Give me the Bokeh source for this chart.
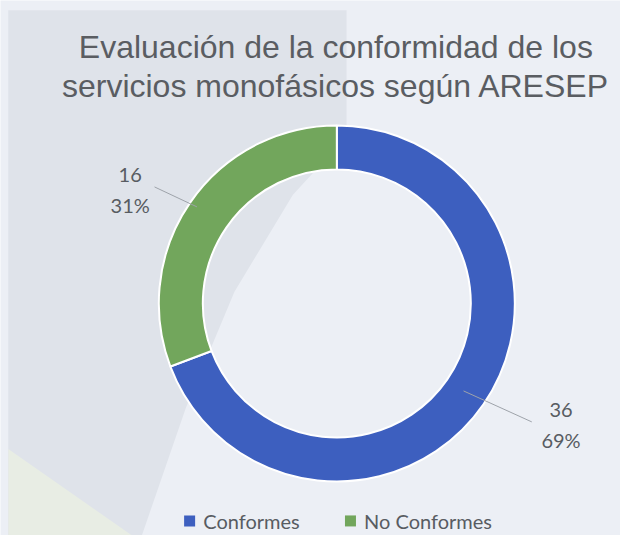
import math
from bokeh.plotting import figure
from bokeh.models import Range1d, ColumnDataSource
from bokeh.core.properties import value
from bokeh.embed import file_html
from bokeh.resources import INLINE

# ---- data ----
categories = ["Conformes", "No Conformes"]
counts = [36, 16]
percents = ["69%", "31%"]
colors = ["#3d5fbf", "#72a65c"]
title_lines = ["Evaluación de la conformidad de los", "servicios monofásicos según ARESEP"]

W, H = 620, 535
BG = "#eceff5"
SX, SY = W / 636, H / 551

p = figure(width=W, height=H, output_backend="svg", toolbar_location=None,
           x_range=Range1d(0, W), y_range=Range1d(0, H),
           background_fill_color=BG, border_fill_color=BG, min_border=0)
p.axis.visible = False
p.grid.visible = False
p.outline_line_color = None

def X(px):
    return px * SX

def Y(py):
    return H - py * SY

# decorative slide background shapes
p.patch([X(8), X(355), X(355), X(300), X(240), X(190), X(145), X(8)],
        [Y(10), Y(10), Y(140), Y(200), Y(300), Y(420), Y(551), Y(551)],
        fill_color="#dfe3ea", line_color=None)
p.patch([X(8), X(135), X(8)],
        [Y(462), Y(551), Y(551)],
        fill_color="#e8ede4", line_color=None)

cx, cy = X(345), Y(312)
r_out, r_in = 178, 134

total = sum(counts)
starts, ends, mids = [], [], []
a = math.pi / 2
for c in counts:
    sweep = 2 * math.pi * c / total
    starts.append(a - sweep)
    ends.append(a)
    mids.append(a - sweep / 2)
    a -= sweep

src = ColumnDataSource(dict(start=starts, end=ends, color=colors,
                            x=[cx] * 2, y=[cy] * 2))
p.annular_wedge(x="x", y="y", inner_radius=r_in, outer_radius=r_out,
                inner_radius_units="screen", outer_radius_units="screen",
                start_angle="start", end_angle="end", fill_color="color",
                line_color="white", line_width=2, source=src)

# labels with leader lines
label_pos = [(X(575), Y(437)), (X(133), Y(195))]
line_end = [(X(545), Y(434)), (X(158), Y(192))]
r_line = [r_in + 20, r_out - 8]
for i in range(2):
    mx = cx + r_line[i] * math.cos(mids[i])
    my = cy + r_line[i] * math.sin(mids[i])
    ex, ey = line_end[i]
    p.line([mx, ex], [my, ey], line_color="#9ea3aa", line_width=1)
    lx, ly = label_pos[i]
    p.text([lx], [ly], text=[f"{counts[i]}\n{percents[i]}"], text_align="center",
           text_baseline="middle", text_font=value("Lato"), text_font_size="20px",
           text_color="#585c62", text_line_height=1.3)

# title
for line, py in zip(title_lines, [48, 88]):
    p.text([X(344)], [Y(py)], text=[line], text_align="center",
           text_baseline="middle", text_font=value("Liberation Sans"),
           text_font_size="32px", text_color="#5a5d62")

# legend
leg_sq = [X(194), X(359)]
leg_tx = [X(208), X(373)]
leg_y = Y(536)
for i in range(2):
    p.scatter([leg_sq[i]], [leg_y], marker="square", size=11,
              fill_color=colors[i], line_color=None)
    p.text([leg_tx[i]], [leg_y], text=[categories[i]], text_align="left",
           text_baseline="middle", text_font=value("Lato"),
           text_font_size="20px", text_color="#585c62")

open("out.html", "w").write(file_html(p, INLINE))
